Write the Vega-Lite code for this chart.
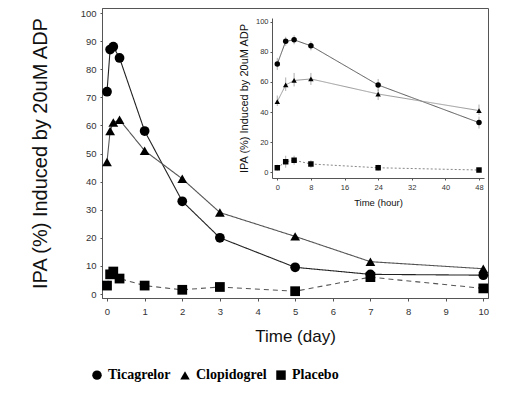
{
  "$schema": "https://vega.github.io/schema/vega-lite/v6.json",
  "width": 386,
  "height": 290,
  "autosize": {"type": "none"},
  "padding": {"left": 102, "top": 8, "right": 35, "bottom": 97},
  "background": "white",
  "config": {
    "view": {"stroke": "#555", "strokeWidth": 1},
    "font": "Liberation Sans",
    "axis": {"grid": false, "domainColor": "#555", "tickColor": "#555", "labelColor": "#333", "titleColor": "#111", "titleFontWeight": "normal", "labelFont": "Liberation Sans", "titleFont": "Liberation Sans"},
    "legend": {"labelFont": "Liberation Serif"}
  },
  "datasets": {
    "main": [
      {"drug": "Ticagrelor", "day": 0, "ipa": 72},
      {"drug": "Ticagrelor", "day": 0.083, "ipa": 87},
      {"drug": "Ticagrelor", "day": 0.167, "ipa": 88},
      {"drug": "Ticagrelor", "day": 0.333, "ipa": 84},
      {"drug": "Ticagrelor", "day": 1, "ipa": 58},
      {"drug": "Ticagrelor", "day": 2, "ipa": 33},
      {"drug": "Ticagrelor", "day": 3, "ipa": 20},
      {"drug": "Ticagrelor", "day": 5, "ipa": 9.5},
      {"drug": "Ticagrelor", "day": 7, "ipa": 7},
      {"drug": "Ticagrelor", "day": 10, "ipa": 6.7},
      {"drug": "Clopidogrel", "day": 0, "ipa": 47},
      {"drug": "Clopidogrel", "day": 0.083, "ipa": 58},
      {"drug": "Clopidogrel", "day": 0.167, "ipa": 61},
      {"drug": "Clopidogrel", "day": 0.333, "ipa": 62},
      {"drug": "Clopidogrel", "day": 1, "ipa": 51},
      {"drug": "Clopidogrel", "day": 2, "ipa": 41},
      {"drug": "Clopidogrel", "day": 3, "ipa": 29},
      {"drug": "Clopidogrel", "day": 5, "ipa": 20.5},
      {"drug": "Clopidogrel", "day": 7, "ipa": 11.5},
      {"drug": "Clopidogrel", "day": 10, "ipa": 9},
      {"drug": "Placebo", "day": 0, "ipa": 3},
      {"drug": "Placebo", "day": 0.083, "ipa": 7},
      {"drug": "Placebo", "day": 0.167, "ipa": 8},
      {"drug": "Placebo", "day": 0.333, "ipa": 5.5},
      {"drug": "Placebo", "day": 1, "ipa": 3},
      {"drug": "Placebo", "day": 2, "ipa": 1.5},
      {"drug": "Placebo", "day": 3, "ipa": 2.5},
      {"drug": "Placebo", "day": 5, "ipa": 1},
      {"drug": "Placebo", "day": 7, "ipa": 6},
      {"drug": "Placebo", "day": 10, "ipa": 2}
    ],
    "inset": [
      {"drug": "Ticagrelor", "hour": 0, "ipa": 72, "lo": 68, "hi": 76},
      {"drug": "Ticagrelor", "hour": 2, "ipa": 87, "lo": 84, "hi": 90},
      {"drug": "Ticagrelor", "hour": 4, "ipa": 88, "lo": 85, "hi": 91},
      {"drug": "Ticagrelor", "hour": 8, "ipa": 84, "lo": 81, "hi": 87},
      {"drug": "Ticagrelor", "hour": 24, "ipa": 58, "lo": 54, "hi": 62},
      {"drug": "Ticagrelor", "hour": 48, "ipa": 33, "lo": 29, "hi": 37},
      {"drug": "Clopidogrel", "hour": 0, "ipa": 47, "lo": 44, "hi": 51},
      {"drug": "Clopidogrel", "hour": 2, "ipa": 58, "lo": 54, "hi": 63},
      {"drug": "Clopidogrel", "hour": 4, "ipa": 61, "lo": 57, "hi": 66},
      {"drug": "Clopidogrel", "hour": 8, "ipa": 62, "lo": 58, "hi": 66},
      {"drug": "Clopidogrel", "hour": 24, "ipa": 52, "lo": 48, "hi": 55},
      {"drug": "Clopidogrel", "hour": 48, "ipa": 41, "lo": 38, "hi": 45},
      {"drug": "Placebo", "hour": 0, "ipa": 3, "lo": 1, "hi": 5},
      {"drug": "Placebo", "hour": 2, "ipa": 7, "lo": 3, "hi": 11},
      {"drug": "Placebo", "hour": 4, "ipa": 8, "lo": 5, "hi": 11},
      {"drug": "Placebo", "hour": 8, "ipa": 5.5, "lo": 3, "hi": 8},
      {"drug": "Placebo", "hour": 24, "ipa": 3, "lo": 1, "hi": 5},
      {"drug": "Placebo", "hour": 48, "ipa": 1.5, "lo": 0, "hi": 3}
    ]
  },
  "layer": [
    {
      "data": {"name": "main"},
      "encoding": {
        "x": {"field": "day", "type": "quantitative", "scale": {"domain": [-0.133, 10.125], "nice": false, "zero": false},
          "axis": {"orient": "bottom", "values": [0,1,2,3,4,5,6,7,8,9,10], "tickSize": 3, "labelFontSize": 9.5, "labelPadding": 5, "title": "Time (day)", "titleFontSize": 17, "titlePadding": 13}},
        "y": {"field": "ipa", "type": "quantitative", "scale": {"domain": [-1.42, 101.78], "nice": false, "zero": false},
          "axis": {"orient": "left", "values": [0,10,20,30,40,50,60,70,80,90,100], "tickSize": 2, "labelFontSize": 9.5, "labelPadding": 4, "title": "IPA (%) Induced by 20uM ADP", "titleFontSize": 20, "titlePadding": 30}}
      },
      "layer": [
        {
          "mark": {"type": "line", "strokeWidth": 1.1},
          "encoding": {
            "color": {"field": "drug", "type": "nominal", "scale": {"domain": ["Ticagrelor", "Clopidogrel", "Placebo"], "range": ["#222222", "#555555", "#555555"]}, "legend": null},
            "strokeDash": {"field": "drug", "type": "nominal", "scale": {"domain": ["Ticagrelor", "Clopidogrel", "Placebo"], "range": [[1, 0], [1, 0], [5, 4]]}, "legend": null}
          }
        },
        {
          "mark": {"type": "point", "filled": true, "size": 95, "color": "black", "opacity": 1, "strokeWidth": 0},
          "encoding": {
            "shape": {"field": "drug", "type": "nominal", "scale": {"domain": ["Ticagrelor", "Clopidogrel", "Placebo"], "range": ["circle", "triangle-up", "square"]},
              "legend": {"orient": "none", "legendX": -12, "legendY": 360, "direction": "horizontal", "title": null, "labelFont": "Liberation Serif", "labelFontWeight": "bold", "labelFontSize": 14, "labelColor": "black", "symbolFillColor": "black", "symbolStrokeColor": "black", "symbolSize": 90, "symbolOpacity": 1, "labelOffset": 4, "columnPadding": 6}}
          }
        }
      ]
    },
    {
      "data": {"name": "inset"},
      "encoding": {
        "x": {"field": "hour", "type": "quantitative", "scale": {"domain": [-1.26, 49.19], "range": [170, 382], "nice": false, "zero": false},
          "axis": {"orient": "bottom", "offset": -120, "values": [0,8,16,24,32,40,48], "tickSize": 2, "labelFontSize": 7.5, "labelPadding": 3, "title": "Time (hour)", "titleFontSize": 9.5, "titlePadding": 7}},
        "y": {"field": "ipa", "type": "quantitative", "scale": {"domain": [-3.8, 102.5], "range": [170, 10], "nice": false, "zero": false},
          "axis": {"orient": "left", "offset": -170, "values": [0,20,40,60,80,100], "tickSize": 2, "labelFontSize": 7.5, "labelPadding": 2, "title": "IPA (%) Induced by 20uM ADP", "titleFontSize": 11, "titlePadding": 6}}
      },
      "layer": [
        {
          "data": {"values": [{}]},
          "mark": {"type": "rect", "fill": "white", "stroke": "#555", "strokeWidth": 1},
          "encoding": {
            "x": {"datum": -1.26, "type": "quantitative"},
            "x2": {"datum": 49.19},
            "y": {"datum": -3.8, "type": "quantitative"},
            "y2": {"datum": 102.5}
          }
        },
        {
          "mark": {"type": "line", "strokeWidth": 1},
          "encoding": {
            "color": {"field": "drug", "type": "nominal", "scale": {"domain": ["Ticagrelor", "Clopidogrel", "Placebo"], "range": ["#555555", "#999999", "#888888"]}, "legend": null},
            "strokeDash": {"field": "drug", "type": "nominal", "scale": {"domain": ["Ticagrelor", "Clopidogrel", "Placebo"], "range": [[1, 0], [1, 0], [2, 2]]}, "legend": null}
          }
        },
        {
          "mark": {"type": "rule", "color": "#999", "strokeWidth": 0.8},
          "encoding": {
            "y": {"field": "lo", "type": "quantitative"},
            "y2": {"field": "hi"}
          }
        },
        {
          "mark": {"type": "point", "filled": true, "size": 30, "color": "black", "opacity": 1, "strokeWidth": 0},
          "encoding": {
            "shape": {"field": "drug", "type": "nominal", "scale": {"domain": ["Ticagrelor", "Clopidogrel", "Placebo"], "range": ["circle", "triangle-up", "square"]}}
          }
        }
      ]
    }
  ],
  "resolve": {
    "scale": {"x": "independent", "y": "independent", "color": "independent", "strokeDash": "independent"},
    "axis": {"x": "independent", "y": "independent"}
  }
}
